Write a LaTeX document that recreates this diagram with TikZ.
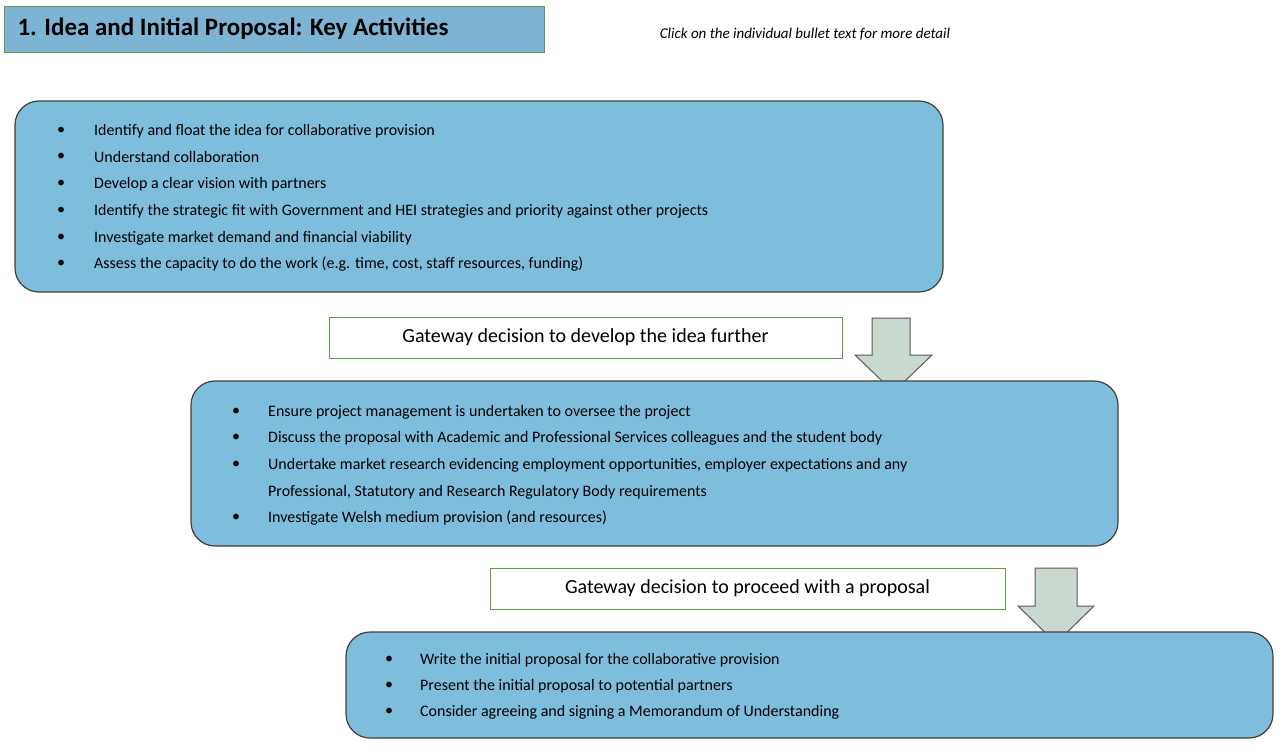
\documentclass[tikz,border=0pt]{standalone}
\usepackage{fontspec}
\setmainfont{Carlito}
\definecolor{boxblue}{HTML}{7FBDDD}
\definecolor{titleblue}{HTML}{7DB4D4}
\definecolor{gborder}{HTML}{5E9A4A}
\definecolor{arrowfill}{HTML}{C9D9CD}
\begin{document}
\begin{tikzpicture}[x=1pt,y=-1pt,
  bigbox/.style={draw=black!75,line width=1.2pt,fill=boxblue,rounded corners=24pt},
  gate/.style={draw=gborder,line width=1pt,fill=white},
  darrow/.style={draw=black!65,line width=1pt,fill=arrowfill},
  btxt/.style={anchor=west,inner sep=0pt,font=\fontsize{16}{18}\selectfont},
  gtxt/.style={font=\fontsize{20}{22}\selectfont}]
\useasboundingbox (0,0) rectangle (1280,750);
% title
\draw[fill=titleblue,draw=gborder,line width=1pt] (4,6) rectangle (544,52);
\node[anchor=west,font=\fontsize{25}{28}\selectfont\bfseries] (title) at (14,29) {1. Idea and Initial Proposal: Key Activities};
\node[font=\fontsize{15}{17}\selectfont\itshape] (note) at (805,34) {Click on the individual bullet text for more detail};
% box 1
\draw[bigbox] (15,101) rectangle (943,292);
\foreach \y/\t in {131/Identify and float the idea for collaborative provision,157/Understand collaboration,184/Develop a clear vision with partners,211/Identify the strategic fit with Government and HEI strategies and priority against other projects,238/Investigate market demand and financial viability,264/{Assess the capacity to do the work (e.g. time, cost, staff resources, funding)}}{
  \node[btxt] at (57,\y) {•}; \node[btxt] at (94,\y) {\t};}
% gateway 1
\node[gate,minimum width=513pt,minimum height=41pt,gtxt] (g1) at (585.5,337.5) {Gateway decision to develop the idea further};
\draw[darrow] (872,318) -- (910,318) -- (910,355) -- (932,355) -- (893.5,392) -- (855,355) -- (872,355) -- cycle;
% box 2
\draw[bigbox] (191,381) rectangle (1118,546);
\foreach \y/\t in {412/Ensure project management is undertaken to oversee the project,438/Discuss the proposal with Academic and Professional Services colleagues and the student body,465/{Undertake market research evidencing employment opportunities, employer expectations and any},518/Investigate Welsh medium provision (and resources)}{
  \node[btxt] at (232,\y) {•};}
\foreach \y/\t in {412/Ensure project management is undertaken to oversee the project,438/Discuss the proposal with Academic and Professional Services colleagues and the student body,465/{Undertake market research evidencing employment opportunities, employer expectations and any},492/{Professional, Statutory and Research Regulatory Body requirements},518/Investigate Welsh medium provision (and resources)}{
  \node[btxt] at (268,\y) {\t};}
% gateway 2
\node[gate,minimum width=515pt,minimum height=41pt,gtxt] (g2) at (747.5,588.5) {Gateway decision to proceed with a proposal};
\draw[darrow] (1035,568) -- (1077,568) -- (1077,606) -- (1094,606) -- (1056,643) -- (1018,606) -- (1035,606) -- cycle;
% box 3
\draw[bigbox] (346,632) rectangle (1273,738);
\foreach \y/\t in {660/Write the initial proposal for the collaborative provision,686/Present the initial proposal to potential partners,712/Consider agreeing and signing a Memorandum of Understanding}{
  \node[btxt] at (385,\y) {•}; \node[btxt] at (420,\y) {\t};}
\end{tikzpicture}
\end{document}
